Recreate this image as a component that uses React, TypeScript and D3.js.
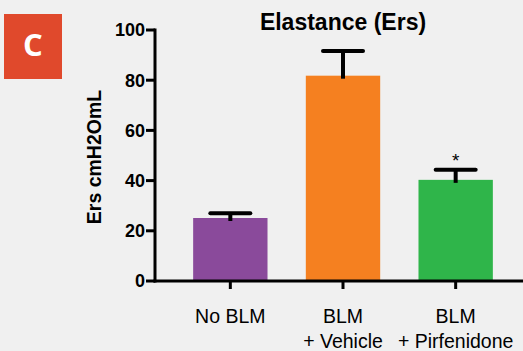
import React from "react";
import * as d3 from "d3";

const groups = ["No BLM", "BLM\n+ Vehicle", "BLM\n+ Pirfenidone"];
const means = [25.1, 81.8, 40.3];
const errors = [1.9, 9.8, 4.0];
const colors = ["#8a4a9b", "#f58020", "#2fb54a"];
const marks = ["", "", "*"];
const yTicks = [0, 20, 40, 60, 80, 100];

const W = 523;
const H = 351;
const margin = { top: 30, right: 0, bottom: 70, left: 155 };

const App = () => {
  const x = d3
    .scaleBand<string>()
    .domain(groups)
    .range([174, 512])
    .paddingInner(0.34)
    .paddingOuter(0.17);
  const y = d3.scaleLinear().domain([0, 100]).range([H - margin.bottom, margin.top]);
  const bw = x.bandwidth();
  const font = "'Liberation Sans', Arial, sans-serif";

  return (
    <svg
      width={W}
      height={H}
      style={{ position: "absolute", left: 0, top: 0, background: "#f0f0f0" }}
      fontFamily={font}
    >
      {/* panel letter */}
      <rect x={4} y={14} width={58} height={65} fill="#e0492c" />
      <text x={33} y={56} textAnchor="middle" fill="#fff" fontSize={31} fontWeight="bold" fontFamily="'Open Sans', sans-serif">
        C
      </text>

      <text x={343} y={30} textAnchor="middle" fontSize={23} fontWeight="bold">
        Elastance (Ers)
      </text>

      <text
        transform={`translate(101, ${157}) rotate(-90)`}
        textAnchor="middle"
        fontSize={19.5}
        fontWeight="bold"
      >
        Ers cmH2OmL
      </text>

      {groups.map((g, i) => {
        const cx = (x(g) as number) + bw / 2;
        const top = y(means[i]);
        const cap = y(means[i] + errors[i]);
        return (
          <g key={g}>
            <rect x={x(g)} y={top} width={bw} height={y(0) - top} fill={colors[i]} />
            <line x1={cx} x2={cx} y1={top + 3} y2={cap} stroke="#000" strokeWidth={4} />
            <line x1={cx - 20} x2={cx + 20} y1={cap} y2={cap} stroke="#000" strokeWidth={4} strokeLinecap="round" />
            {marks[i] && (
              <text x={cx} y={cap - 3} textAnchor="middle" fontSize={19}>
                {marks[i]}
              </text>
            )}
          </g>
        );
      })}

      {/* y axis */}
      <line x1={margin.left} x2={margin.left} y1={y(100) - 1.5} y2={y(0) + 1.5} stroke="#000" strokeWidth={3} />
      {yTicks.map((t) => (
        <g key={t}>
          <line x1={margin.left - 9} x2={margin.left} y1={y(t)} y2={y(t)} stroke="#000" strokeWidth={3} />
          <text x={margin.left - 10} y={y(t)} dy="0.36em" textAnchor="end" fontSize={18} fontWeight="bold">
            {t}
          </text>
        </g>
      ))}

      {/* x axis */}
      <line x1={margin.left - 1.5} x2={W} y1={y(0)} y2={y(0)} stroke="#000" strokeWidth={3} />
      {groups.map((g) => {
        const cx = (x(g) as number) + bw / 2;
        const lines = g.split("\n");
        return (
          <g key={g}>
            <line x1={cx} x2={cx} y1={y(0)} y2={y(0) + 8} stroke="#000" strokeWidth={3} />
            {lines.map((l, j) => (
              <text key={j} x={cx} y={323 + j * 25} textAnchor="middle" fontSize={19.5}>
                {l}
              </text>
            ))}
          </g>
        );
      })}
    </svg>
  );
};

export default App;
